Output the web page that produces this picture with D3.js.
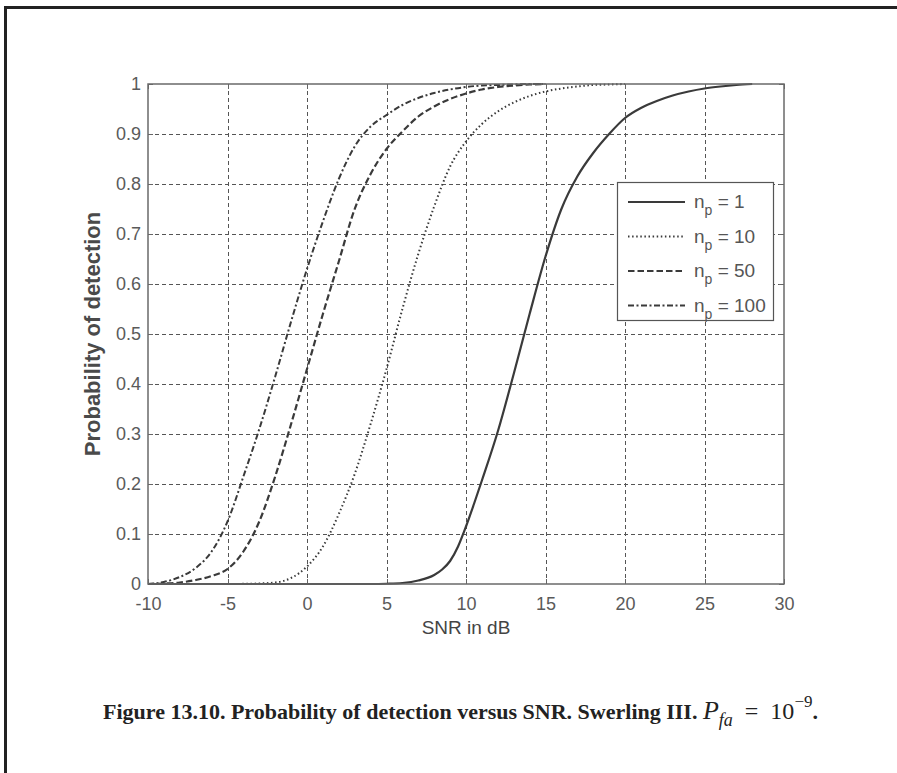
<!DOCTYPE html>
<html>
<head>
<meta charset="utf-8">
<script src="https://cdn.jsdelivr.net/npm/d3@7"></script>
<style>
	body { margin: 0; background: #fff; }
	svg { display: block; }
</style>
</head>
<body>
<div id="chart"></div>
<script>
// values (SNR in dB, probability of detection)
let snrNp1 = [-10, -5, 0, 4, 5, 6, 7, 8, 8.5, 9, 9.5, 10, 10.5, 11, 12, 13, 14, 15, 16, 17, 18, 19, 20, 21, 22, 23, 24, 25, 26, 27, 28];
let pdNp1 = [0, 0, 0, 0, 0.0005, 0.002, 0.007, 0.018, 0.029, 0.046, 0.075, 0.115, 0.16, 0.207, 0.305, 0.42, 0.54, 0.655, 0.75, 0.815, 0.862, 0.9, 0.932, 0.952, 0.966, 0.977, 0.985, 0.991, 0.995, 0.998, 1];

let snrNp10 = [-10, -5, -4, -3, -2, -1, 0, 1, 2, 3, 4, 5, 6, 7, 8, 9, 10, 11, 12, 13, 14, 15, 16, 17, 18, 19, 20];
let pdNp10 = [0, 0, 0.0003, 0.001, 0.003, 0.012, 0.035, 0.075, 0.14, 0.22, 0.32, 0.43, 0.55, 0.66, 0.755, 0.835, 0.885, 0.92, 0.945, 0.963, 0.976, 0.985, 0.991, 0.995, 0.998, 0.999, 1];

let snrNp50 = [-10, -9, -8, -7, -6, -5, -4, -3, -2, -1, 0, 1, 2, 3, 4, 5, 6, 7, 8, 9, 10, 11, 12, 13, 14, 15];
let pdNp50 = [0, 0.001, 0.003, 0.008, 0.016, 0.03, 0.065, 0.125, 0.215, 0.32, 0.43, 0.54, 0.645, 0.75, 0.82, 0.87, 0.905, 0.935, 0.955, 0.97, 0.981, 0.989, 0.994, 0.997, 0.999, 1];

let snrNp100 = [-10, -9, -8, -7, -6, -5, -4, -3, -2, -1, 0, 1, 2, 3, 4, 5, 6, 7, 8, 9, 10, 11, 12, 13, 14, 15];
let pdNp100 = [0, 0.004, 0.014, 0.032, 0.065, 0.125, 0.215, 0.31, 0.415, 0.525, 0.63, 0.725, 0.81, 0.875, 0.915, 0.938, 0.958, 0.972, 0.982, 0.989, 0.994, 0.997, 0.998, 0.999, 1, 1];

let legendLabels = ["1", "10", "50", "100"];
let xTicks = [-10, -5, 0, 5, 10, 15, 20, 25, 30];
let yTicks = [0, 0.1, 0.2, 0.3, 0.4, 0.5, 0.6, 0.7, 0.8, 0.9, 1];

let width = 897;
let height = 773;
let margin = { top: 84, right: 113, bottom: 189, left: 148 };

let series = [
	{ x: snrNp1, y: pdNp1, dash: null, w: 2.2 },
	{ x: snrNp10, y: pdNp10, dash: "1.5,2.6", w: 2 },
	{ x: snrNp50, y: pdNp50, dash: "6.5,3", w: 2.2 },
	{ x: snrNp100, y: pdNp100, dash: "6,2.5,2,2.5", w: 2 }
];

let svg = d3.select('#chart')
	.append('svg')
	.attr('width', width)
	.attr('height', height);

// page frame (top and left edges only)
svg.append('line').attr('x1', 4).attr('x2', width).attr('y1', 7.5).attr('y2', 7.5)
	.attr('stroke', '#222').attr('stroke-width', 3);
svg.append('line').attr('x1', 5.5).attr('x2', 5.5).attr('y1', 6).attr('y2', height)
	.attr('stroke', '#222').attr('stroke-width', 3);

let xScale = d3.scaleLinear()
	.domain([-10, 30])
	.range([margin.left, width - margin.right]);

let yScale = d3.scaleLinear()
	.domain([0, 1])
	.range([height - margin.bottom, margin.top]);

let x0 = xScale.range()[0], x1 = xScale.range()[1];
let y0 = yScale.range()[0], y1 = yScale.range()[1];

// grid
let grid = svg.append('g').attr('stroke', '#555').attr('stroke-width', 1).attr('stroke-dasharray', '4,3');
grid.selectAll('.vg')
	.data(xTicks.slice(1, -1))
	.enter()
	.append('line')
	.attr('x1', d => Math.round(xScale(d)) + 0.5)
	.attr('x2', d => Math.round(xScale(d)) + 0.5)
	.attr('y1', y1)
	.attr('y2', y0);
grid.selectAll('.hg')
	.data(yTicks.slice(1, -1))
	.enter()
	.append('line')
	.attr('y1', d => Math.round(yScale(d)) + 0.5)
	.attr('y2', d => Math.round(yScale(d)) + 0.5)
	.attr('x1', x0)
	.attr('x2', x1);

// axes
let xAxis = svg.append('g')
	.attr('transform', `translate(0,${y0})`)
	.call(d3.axisBottom(xScale).tickValues(xTicks).tickSize(0).tickPadding(13).tickFormat(d => String(d)));
let yAxis = svg.append('g')
	.attr('transform', `translate(${x0},0)`)
	.call(d3.axisLeft(yScale).tickValues(yTicks).tickSize(0).tickPadding(7).tickFormat(d => String(d)));

[xAxis, yAxis].forEach(a => {
	a.select('.domain').remove();
	a.selectAll('text')
		.attr('fill', '#5a5a5a')
		.style('font-family', '"Liberation Sans", Arial, sans-serif')
		.style('font-size', '18px');
});

// inward tick marks
let tk = svg.append('g').attr('stroke', '#666').attr('stroke-width', 1);
xTicks.forEach(v => {
	let px = Math.round(xScale(v)) + 0.5;
	tk.append('line').attr('x1', px).attr('x2', px).attr('y1', y0).attr('y2', y0 - 5);
	tk.append('line').attr('x1', px).attr('x2', px).attr('y1', y1).attr('y2', y1 + 5);
});
yTicks.forEach(v => {
	let py = Math.round(yScale(v)) + 0.5;
	tk.append('line').attr('y1', py).attr('y2', py).attr('x1', x0).attr('x2', x0 + 5);
	tk.append('line').attr('y1', py).attr('y2', py).attr('x1', x1).attr('x2', x1 - 5);
});

// curves
let line = d3.line()
	.x(d => xScale(d[0]))
	.y(d => yScale(d[1]))
	.curve(d3.curveMonotoneX);

svg.append('g')
	.selectAll('path')
	.data(series)
	.enter()
	.append('path')
	.attr('d', s => line(s.x.map((v, i) => [v, s.y[i]])))
	.attr('fill', 'none')
	.attr('stroke', '#3a3a3a')
	.attr('stroke-width', s => s.w)
	.attr('stroke-dasharray', s => s.dash);

// plot box
svg.append('rect')
	.attr('x', x0).attr('y', y1)
	.attr('width', x1 - x0).attr('height', y0 - y1)
	.attr('fill', 'none')
	.attr('stroke', '#6a6a6a')
	.attr('stroke-width', 1.5);

// axis labels
svg.append('text')
	.attr('x', (x0 + x1) / 2)
	.attr('y', 634)
	.style('text-anchor', 'middle')
	.style('font-family', '"Liberation Sans", Arial, sans-serif')
	.style('font-size', '19px')
	.attr('fill', '#444')
	.text('SNR in dB');

svg.append('text')
	.attr('transform', 'rotate(-90)')
	.attr('x', -(y0 + y1) / 2)
	.attr('y', 100)
	.style('text-anchor', 'middle')
	.style('font-family', '"Liberation Sans", Arial, sans-serif')
	.style('font-size', '22px')
	.style('font-weight', 'bold')
	.attr('fill', '#4a4a4a')
	.text('Probability of detection');

// legend
let lg = svg.append('g');
lg.append('rect')
	.attr('x', 617.5).attr('y', 182.5)
	.attr('width', 156).attr('height', 138)
	.attr('fill', '#fff')
	.attr('stroke', '#555')
	.attr('stroke-width', 1.2);

series.forEach((s, i) => {
	let ry = 202 + i * 34.5;
	lg.append('line')
		.attr('x1', 628).attr('x2', 685)
		.attr('y1', ry).attr('y2', ry)
		.attr('stroke', '#3a3a3a')
		.attr('stroke-width', s.w)
		.attr('stroke-dasharray', s.dash);
	let t = lg.append('text')
		.attr('x', 694)
		.attr('y', ry + 6)
		.style('font-family', '"Liberation Sans", Arial, sans-serif')
		.style('font-size', '19px')
		.attr('fill', '#555');
	t.append('tspan').text('n');
	t.append('tspan').attr('dy', 7).style('font-size', '14px').text('p');
	t.append('tspan').attr('dy', -7).text(' = ' + legendLabels[i]);
});

// caption
let cap = svg.append('text')
	.attr('x', 103)
	.attr('y', 719)
	.style('font-family', '"Liberation Serif", "Times New Roman", serif')
	.style('font-size', '22px')
	.attr('fill', '#222');
cap.append('tspan').style('font-weight', 'bold').text('Figure 13.10. Probability of detection versus SNR. Swerling III. ');
cap.append('tspan').style('font-style', 'italic').style('font-size', '26px').text('P');
cap.append('tspan').style('font-style', 'italic').style('font-size', '18px').attr('dy', 7).text('fa');
cap.append('tspan').attr('dy', -7).style('font-size', '24px').text(' \u00a0=\u00a0 10');
cap.append('tspan').attr('dy', -12).style('font-size', '17px').text('\u22129');
cap.append('tspan').attr('dy', 12).style('font-weight', 'bold').text('.');
</script>
</body>
</html>
